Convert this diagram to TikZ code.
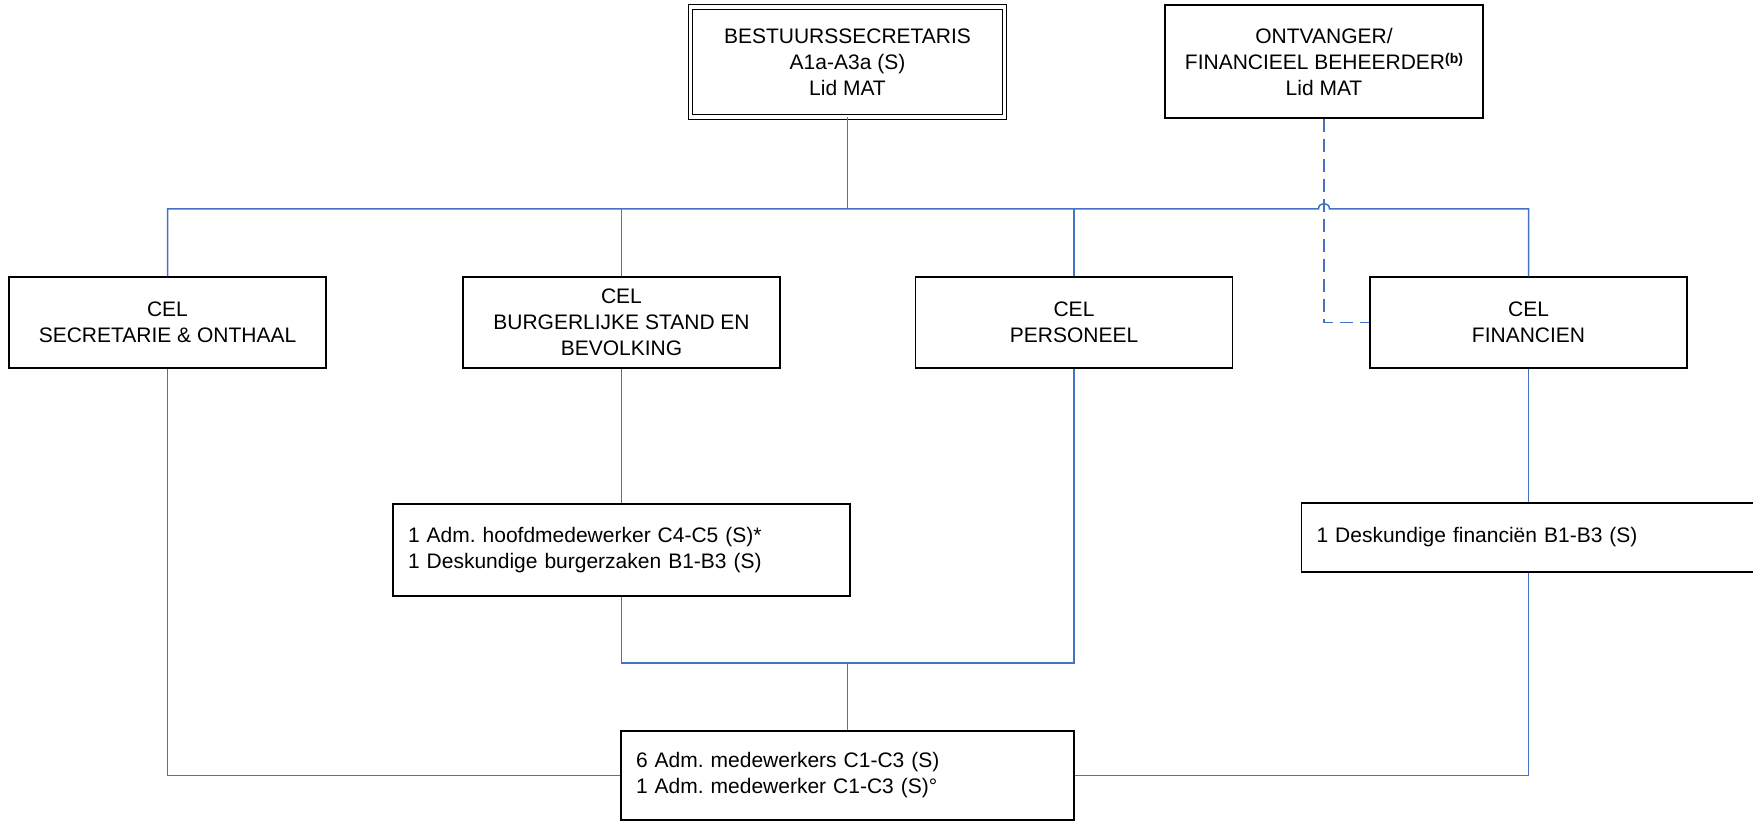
\documentclass[tikz,border=0pt]{standalone}
\usepackage{fontspec}
\setmainfont{Liberation Sans}
\usetikzlibrary{calc}
\definecolor{lineblue}{RGB}{68,114,196}
\frenchspacing
\begin{document}
\begin{tikzpicture}[x=1pt,y=-1pt,
  every node/.style={font=\fontsize{21}{26}\selectfont},
  box/.style={draw=black, line width=1.3pt, rectangle, inner sep=0pt, align=center},
  celbox/.style={box, minimum width=317pt, minimum height=91pt},
  lbox/.style={draw=black, line width=1.3pt, rectangle, inner ysep=0pt, inner xsep=15pt, align=left},
  conn/.style={draw=lineblue, line width=1.5pt},
  dconn/.style={conn, dash pattern=on 13pt off 7pt}
]
\useasboundingbox (0,0) rectangle (1753,821);
\fill[white] (0,0) rectangle (1753,821);
\begin{scope}
\clip (0,0) rectangle (1753,821);

% nodes
\node[box, double, double distance=3.4pt, line width=1pt, minimum width=314pt, minimum height=110pt] (top) at (847.5,62) {BESTUURSSECRETARIS\\A1a-A3a (S)\\Lid MAT};
\node[box, minimum width=318pt, minimum height=113pt] (ont) at (1324,61.5) {ONTVANGER/\\FINANCIEEL BEHEERDER\raisebox{6pt}{\fontsize{14}{14}\selectfont\bfseries (b)}\\Lid MAT};

\node[celbox] (sec) at (167.5,322.5) {CEL\\SECRETARIE \& ONTHAAL};
\node[celbox] (bur) at (621.5,322.5) {CEL\\BURGERLIJKE STAND EN\\BEVOLKING};
\node[celbox] (per) at (1074,322.5) {CEL\\PERSONEEL};
\node[celbox] (fin) at (1528.5,322.5) {CEL\\FINANCIEN};

\node[lbox, text width=427pt, minimum height=92pt] (hoof) at (621.5,550) {1 Adm. hoofdmedewerker C4-C5 (S)*\\1 Deskundige burgerzaken B1-B3 (S)};
\node[lbox, text width=424pt, minimum height=69pt] (desk) at (1528.5,537.5) {1 Deskundige financiën B1-B3 (S)};
\node[lbox, text width=423pt, minimum height=89pt] (bot) at (847.5,775.5) {6 Adm. medewerkers C1-C3 (S)\\1 Adm. medewerker C1-C3 (S)°};

% coordinates
\coordinate (bus) at (847.5,209);
\coordinate (jl) at ($(ont.south |- bus)+(-5.5,0)$);
\coordinate (jr) at ($(ont.south |- bus)+(5.5,0)$);
\coordinate (u) at (847.5,663);

% connectors
\draw[conn] (top.south) -- (top.south |- bus);
\draw[conn] (sec.north) |- (jl) .. controls +(0,-7.3) and +(0,-7.3) .. (jr) -| (fin.north);
\draw[conn] (bur.north) -- (bur.north |- bus);
\draw[conn] (per.north) -- (per.north |- bus);
\draw[dconn] (ont.south) |- (fin.west);

\draw[conn] (sec.south) |- (bot.west);
\draw[conn] (bur.south) -- (hoof.north);
\draw[conn] (hoof.south) |- (per.south |- u) -- (per.south);
\draw[conn] (u) -- (bot.north);
\draw[conn] (fin.south) -- (desk.north);
\draw[conn] (desk.south) |- (bot.east);
\end{scope}
\end{tikzpicture}
\end{document}
